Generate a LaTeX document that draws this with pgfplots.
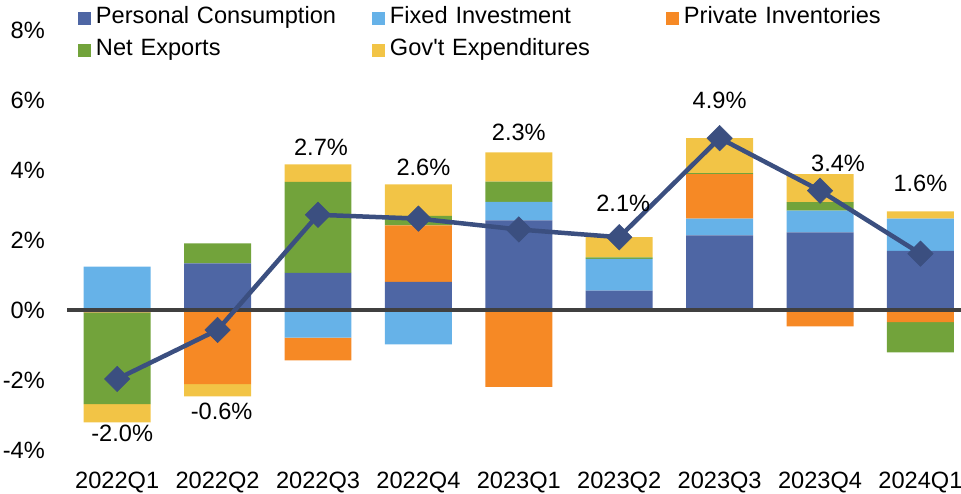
\documentclass[border=0pt]{standalone}
\usepackage{fontspec}
\setmainfont{Liberation Sans}
\newfontfamily\plainfont{Liberation Sans}
\usepackage{pgfplots}
\pgfplotsset{compat=1.18}
\usepackage{pgfplotstable}

\definecolor{pc}{RGB}{78,102,164}
\definecolor{fi}{RGB}{102,178,232}
\definecolor{inv}{RGB}{246,137,37}
\definecolor{nx}{RGB}{114,163,59}
\definecolor{gov}{RGB}{242,196,70}
\definecolor{gdpline}{RGB}{59,79,128}
\definecolor{zeroline}{RGB}{64,64,64}

% contributions to real GDP growth, percentage points; dx/dy = label offsets
\pgfplotstableread{
x PC FI INV NX GOV total dx dy
0 0.00 1.24 -0.07 -2.62 -0.52 -1.97 5 -54
1 1.33 -0.03 -2.09 0.57 -0.35 -0.57 4 -81
2 1.06 -0.79 -0.65 2.60 0.50 2.72 3 67
3 0.80 -0.98 1.62 0.27 0.90 2.61 5 51
4 2.56 0.53 -2.20 0.58 0.83 2.30 0 97.5
5 0.55 0.91 0.00 0.04 0.58 2.08 4 34
6 2.13 0.48 1.27 0.03 1.00 4.91 0 38
7 2.22 0.62 -0.47 0.24 0.80 3.41 18 27
8 1.69 0.92 -0.35 -0.86 0.21 1.61 0 70
}\gdpdata

\pgfplotsset{
  base/.style={scale only axis, width=894pt, height=420pt,
    xmin=-0.5, xmax=8.404, ymin=-4, ymax=8, at={(0,0)}, anchor=south west},
  sqlegend/.style={legend image code/.code={\fill[##1] (0pt,-6.5pt) rectangle (13pt,6.5pt);}},
}

\begin{document}
\fontsize{23.6}{28}\selectfont
\begin{tikzpicture}[font=\fontsize{23.6}{28}\selectfont]
\useasboundingbox (-67pt,-44pt) rectangle (894pt,450pt);

% positive contributions, axes and legend
\begin{axis}[base, ybar stacked, bar width=0.667,
  axis lines*=left, axis line style={draw=none},
  major tick length=0pt, tick style={draw=none},
  xtick={0,...,8},
  xticklabels={2022Q1,2022Q2,2022Q3,2022Q4,2023Q1,2023Q2,2023Q3,2023Q4,2024Q1},
  xticklabel style={anchor=north, inner sep=0pt, yshift=-22pt},
  ytick={-4,-2,0,2,4,6,8},
  yticklabels={-4\%,-2\%,0\%,2\%,4\%,6\%,8\%},
  yticklabel style={anchor=east, inner sep=0pt, xshift=-22pt},
  legend columns=3,
  legend style={at={(0.0123,1.0536)}, anchor=north west, draw=none, fill=none,
    inner sep=0pt, outer sep=0pt, row sep=10.5pt, column sep=0pt,
    cells={anchor=west},
    /tikz/every odd column/.append style={column sep=5pt},
    nodes={inner sep=0pt, text height=16.5pt, text depth=5pt, text width=276pt}},
]
\addplot[fill=pc, draw=none, sqlegend] table[x=x, y expr={max(\thisrow{PC},0)}] {\gdpdata};
\addlegendentry{Personal Consumption}
\addplot[fill=fi, draw=none, sqlegend] table[x=x, y expr={max(\thisrow{FI},0)}] {\gdpdata};
\addlegendentry{Fixed Investment}
\addplot[fill=inv, draw=none, sqlegend] table[x=x, y expr={max(\thisrow{INV},0)}] {\gdpdata};
\addlegendentry{Private Inventories}
\addplot[fill=nx, draw=none, sqlegend] table[x=x, y expr={max(\thisrow{NX},0)}] {\gdpdata};
\addlegendentry{Net Exports}
\addplot[fill=gov, draw=none, sqlegend] table[x=x, y expr={max(\thisrow{GOV},0)}] {\gdpdata};
\addlegendentry{{\plainfont Gov't Expenditures}}
\end{axis}

% negative contributions
\begin{axis}[base, hide axis, ybar stacked, bar width=0.667]
\addplot[fill=pc, draw=none] table[x=x, y expr={min(\thisrow{PC},0)}] {\gdpdata};
\addplot[fill=fi, draw=none] table[x=x, y expr={min(\thisrow{FI},0)}] {\gdpdata};
\addplot[fill=inv, draw=none] table[x=x, y expr={min(\thisrow{INV},0)}] {\gdpdata};
\addplot[fill=nx, draw=none] table[x=x, y expr={min(\thisrow{NX},0)}] {\gdpdata};
\addplot[fill=gov, draw=none] table[x=x, y expr={min(\thisrow{GOV},0)}] {\gdpdata};
\end{axis}

% zero line and real GDP growth
\begin{axis}[base, hide axis, clip=false]
\addplot[draw=zeroline, line width=3.5pt] coordinates {(-0.5,0) (8.404,0)};
\addplot[draw=gdpline, line width=4.5pt,
  mark=square*, mark size=9pt,
  mark options={rotate=45, fill=gdpline, draw=gdpline, line width=0.5pt, solid},
  nodes near coords={\pgfmathprintnumber[fixed, fixed zerofill, precision=1, assume math mode=true]{\pgfplotspointmeta}\%},
  visualization depends on={\thisrow{dx} \as \dx},
  visualization depends on={\thisrow{dy} \as \dy},
  every node near coord/.append style={anchor=center, inner sep=0pt, text=black,
    xshift=\dx pt, yshift=\dy pt},
] table[x=x, y=total] {\gdpdata};
\end{axis}
\end{tikzpicture}
\end{document}
